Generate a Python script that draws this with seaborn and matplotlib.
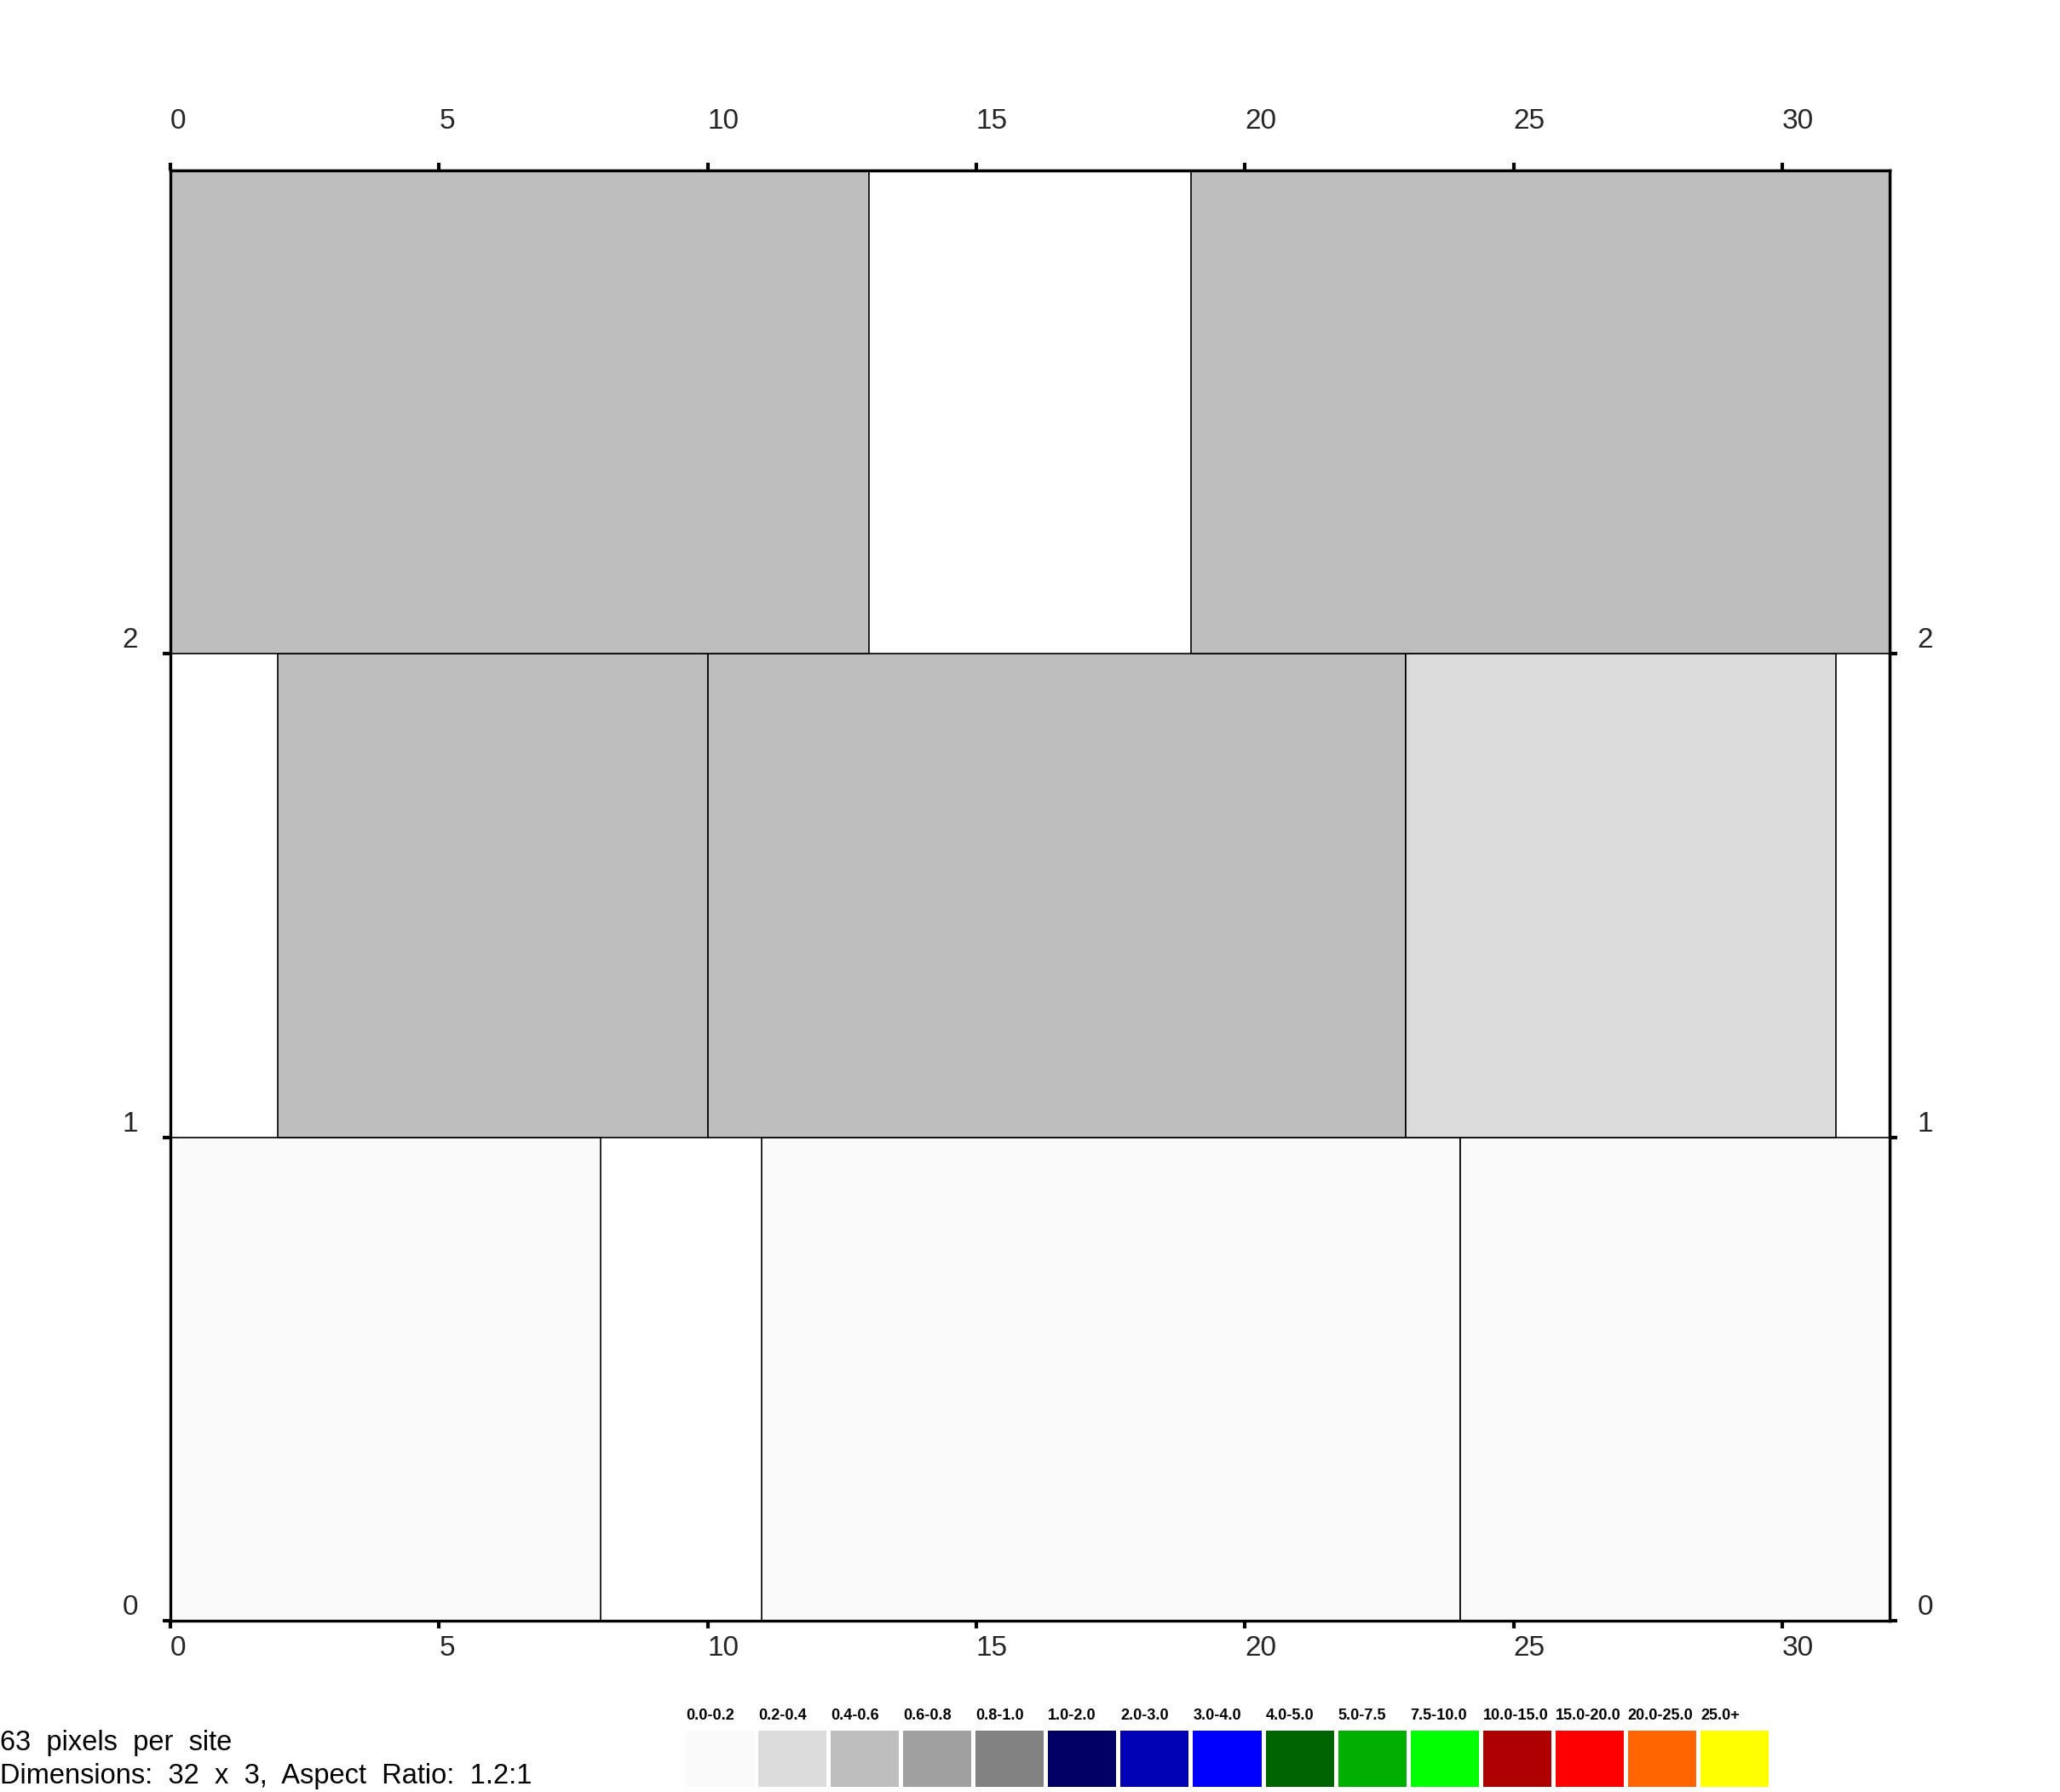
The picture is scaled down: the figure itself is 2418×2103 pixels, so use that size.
import matplotlib
matplotlib.use("Agg")
import matplotlib.pyplot as plt
from matplotlib import font_manager
import seaborn as sns

# lattice segments: row, first site, last site (exclusive), value
seg_row = [0, 0, 0, 1, 1, 1, 2, 2]
seg_start = [0, 11, 24, 2, 10, 23, 0, 19]
seg_end = [8, 24, 32, 10, 23, 31, 13, 32]
seg_value = [0.1, 0.1, 0.1, 0.5, 0.5, 0.3, 0.5, 0.5]

n_sites = 32
n_rows = 3
x_ticks = [0, 5, 10, 15, 20, 25, 30]
y_ticks = [0, 1, 2]

# colour key
bin_lower = [0.0, 0.2, 0.4, 0.6, 0.8, 1.0, 2.0, 3.0, 4.0, 5.0, 7.5, 10.0, 15.0, 20.0, 25.0]
legend_labels = ["0.0-0.2", "0.2-0.4", "0.4-0.6", "0.6-0.8", "0.8-1.0", "1.0-2.0", "2.0-3.0",
                 "3.0-4.0", "4.0-5.0", "5.0-7.5", "7.5-10.0", "10.0-15.0", "15.0-20.0",
                 "20.0-25.0", "25.0+"]
legend_colors = ["#f9f9f9", "#dcdcdc", "#bebebe", "#a0a0a0", "#828282", "#000064", "#0000b4",
                 "#0000ff", "#006400", "#00b000", "#00ff00", "#af0000", "#ff0000", "#ff6400",
                 "#ffff00"]

info_lines = ["63  pixels  per  site", "Dimensions:  32  x  3,  Aspect  Ratio:  1.2:1"]


def color_for(v):
    idx = 0
    for i, lo in enumerate(bin_lower):
        if v >= lo:
            idx = i
    return legend_colors[idx]


sns.set_theme(style="white")
installed = {f.name for f in font_manager.fontManager.ttflist}
narrow = "Liberation Sans Narrow" if "Liberation Sans Narrow" in installed else "Liberation Sans"
tick_size = 25 if narrow == "Liberation Sans Narrow" else 24
plt.rcParams["font.family"] = ["Liberation Sans", "DejaVu Sans"]

W, H = 2418, 2103
fig = plt.figure(figsize=(W / 100, H / 100), dpi=100)
fig.patch.set_facecolor("white")

ax = fig.add_axes([200 / W, 1 - 1902 / H, 2018 / W, 1702 / H])
ax.set_facecolor("white")

for r, s, e, v in zip(seg_row, seg_start, seg_end, seg_value):
    ax.barh(r + 0.5, e - s, left=s, height=1, color=color_for(v),
            edgecolor="black", linewidth=1.2, zorder=2)

ax.set_xlim(0, n_sites)
ax.set_ylim(0, n_rows)

for sp in ax.spines.values():
    sp.set_linewidth(2.4)
    sp.set_color("black")
    sp.set_zorder(5)

tick_kw = dict(direction="out", length=6.5, width=3, color="black", labelsize=tick_size)

# bottom / left
ax.set_xticks(x_ticks)
ax.set_yticks(y_ticks)
ax.tick_params(axis="x", bottom=True, top=False, pad=6, **tick_kw)
ax.tick_params(axis="y", left=True, right=False, pad=21, **tick_kw)
for lab in ax.get_xticklabels():
    lab.set_ha("left")
    lab.set_family(narrow)
for lab in ax.get_yticklabels():
    lab.set_va("bottom")
    lab.set_family(narrow)

# top / right
top = ax.secondary_xaxis("top")
top.set_xticks(x_ticks)
top.tick_params(axis="x", pad=24, **tick_kw)
top.spines["top"].set_linewidth(2.4)
for lab in top.get_xticklabels():
    lab.set_ha("left")
    lab.set_family(narrow)

right = ax.secondary_yaxis("right")
right.set_yticks(y_ticks)
right.tick_params(axis="y", pad=17, **tick_kw)
right.spines["right"].set_linewidth(2.4)
for lab in right.get_yticklabels():
    lab.set_va("bottom")
    lab.set_family(narrow)

# colour key
lax = fig.add_axes([805 / W, 1 - 2097 / H, 1271 / W, 66 / H])
n_bins = len(legend_labels)
for i, (lab, col) in enumerate(zip(legend_labels, legend_colors)):
    lax.bar(i, 1, width=80 / 85, align="edge", color=col, linewidth=0)
    lax.text(i, 1.14, lab, ha="left", va="bottom", fontsize=13, fontweight="bold",
             color="black", clip_on=False)
lax.set_xlim(0, n_bins - 5 / 85)
lax.set_ylim(0, 1)
lax.axis("off")

fig.text(0, 1 - 2054 / H, info_lines[0], ha="left", va="baseline", fontsize=23.5, color="black")
fig.text(0, 1 - 2093 / H, info_lines[1], ha="left", va="baseline", fontsize=23.5, color="black")

fig.savefig("out.png", dpi=100, facecolor="white")
